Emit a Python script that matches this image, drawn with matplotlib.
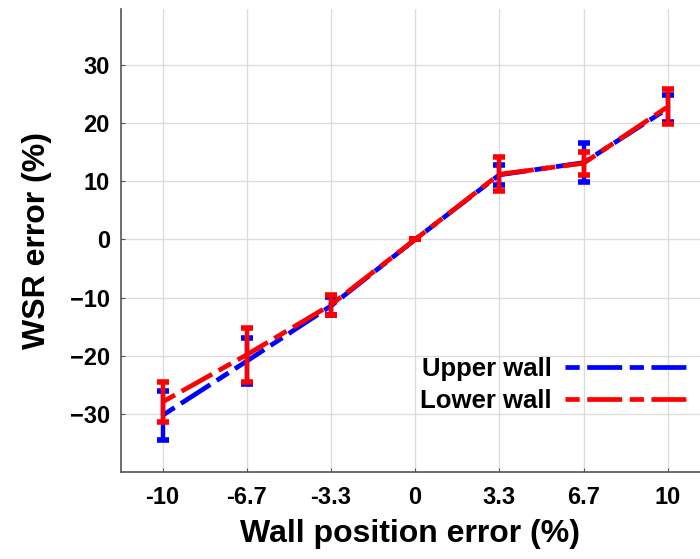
import matplotlib
matplotlib.use("Agg")
import matplotlib.pyplot as plt

# data
x_pos = [-10, -6.67, -3.33, 0, 3.33, 6.67, 10]
x_labels = ["-10", "-6.7", "-3.3", "0", "3.3", "6.7", "10"]

upper_wall = [-30.2, -20.9, -11.4, 0, 11.1, 13.2, 22.5]
upper_err = [4.2, 4.0, 1.5, 0, 1.7, 3.4, 2.3]

lower_wall = [-27.9, -19.8, -11.2, 0, 11.2, 13.1, 22.8]
lower_err = [3.5, 4.6, 1.7, 0, 2.9, 2.0, 3.0]

y_ticks = [-30, -20, -10, 0, 10, 20, 30]

plt.rcParams["font.family"] = ["Liberation Sans", "DejaVu Sans"]
plt.rcParams["font.weight"] = "bold"

fig = plt.figure(figsize=(7, 5.59), dpi=100)
ax = fig.add_axes([121 / 700, (559 - 472.3) / 559, (700 - 121) / 700, (472.3 - 9) / 559])

dash = (0, (3.0, 1.6, 7.4, 1.6))
lw = 3.4

# blue first, red drawn on top
ax.errorbar(x_pos, upper_wall, yerr=upper_err, fmt="none", ecolor="#0000ff",
            elinewidth=3.2, capsize=4, capthick=4, zorder=3)
ax.plot(x_pos, upper_wall, color="#0000ff", lw=lw, linestyle=dash,
        label="Upper wall", zorder=4)
ax.errorbar(x_pos, lower_wall, yerr=lower_err, fmt="none", ecolor="#ff0000",
            elinewidth=3.2, capsize=4, capthick=4, zorder=5)
ax.plot(x_pos, lower_wall, color="#ff0000", lw=lw, linestyle=dash,
        label="Lower wall", zorder=6)

ax.set_xlim(-11.65, 11.28)
ax.set_ylim(-40, 39.6)
ax.set_xticks(x_pos)
ax.set_xticklabels(x_labels)
ax.set_yticks(y_ticks)

ax.grid(True, color="#dcdcdc", lw=1)
ax.set_axisbelow(True)

for side in ["top", "right"]:
    ax.spines[side].set_visible(False)
for side in ["left", "bottom"]:
    ax.spines[side].set_color("#555555")
    ax.spines[side].set_linewidth(1.2)

ax.tick_params(axis="both", direction="in", length=3, color="#555555",
               labelsize=17)
ax.tick_params(axis="x", pad=10)
ax.tick_params(axis="y", pad=8)
for t in ax.get_xticklabels() + ax.get_yticklabels():
    t.set_fontweight("bold")

ax.set_xlabel("Wall position error (%)", fontsize=23, fontweight="bold", labelpad=7)
ax.set_ylabel("WSR error (%)", fontsize=23, fontweight="bold", labelpad=13)

leg = ax.legend(loc="center right", bbox_to_anchor=(0.988, 0.188), frameon=False,
                markerfirst=False, handlelength=5.0, handletextpad=0.5,
                labelspacing=0.3, borderaxespad=0, borderpad=0,
                prop={"size": 18.5, "weight": "bold"})

fig.savefig("out.png", dpi=100)
